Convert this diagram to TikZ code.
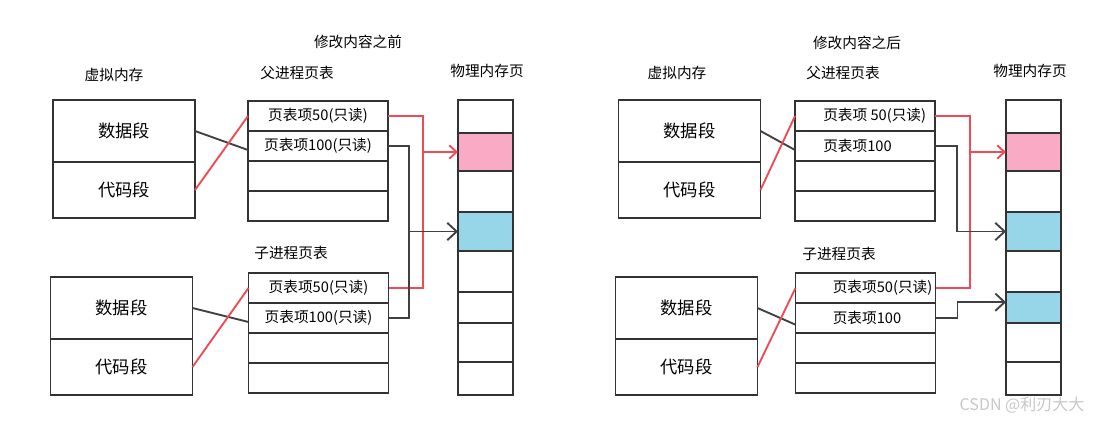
\documentclass[tikz,border=0pt]{standalone}
\usepackage{fontspec}
\setmainfont{Noto Sans CJK SC}
\usetikzlibrary{positioning, arrows.meta}
\definecolor{pagepink}{HTML}{F9AAC4}
\definecolor{pageblue}{HTML}{97D5E8}
\definecolor{cowred}{HTML}{EE4B55}

\begin{document}
\begin{tikzpicture}[x=0.75pt, y=-0.75pt,
        seg/.style={
            rectangle, draw=black!80, line width=1.3pt, outer sep=0pt,
            minimum width=106.5pt, minimum height=46.5pt,
            font=\fontsize{13}{15}\selectfont
        },
        pte/.style={
            rectangle, draw=black!80, line width=1.3pt, outer sep=0pt,
            minimum width=105pt, minimum height=22.5pt, inner sep=0pt,
            font=\fontsize{11}{13}\selectfont
        },
        cell/.style={rectangle, draw=black!80, line width=1.3pt, outer sep=0pt, minimum width=41.25pt, inner sep=0pt},
        head/.style={font=\fontsize{11}{13}\selectfont},
        entry/.style={inner sep=0pt, font=\fontsize{11}{13}\selectfont},
        blk/.style={draw=black!75, line width=1.4pt},
        redlink/.style={draw=cowred, line width=1.4pt},
        blkarrow/.style={blk, -{Straight Barb[length=7pt, width=13pt]}},
        redarrow/.style={redlink, -{Straight Barb[length=5.5pt, width=10pt]}}
    ]
        \useasboundingbox (0,0) rectangle (1111,425);

        % before the change
        \node[head] (titleL) at (358,42) {修改内容之前};
        \node[head] (vmL) at (114,75) {虚拟内存};
        \node[head] (ppL) at (297,73) {父进程页表};
        \node[head] (phL) at (487,71) {物理内存页};
        \node[head] (cpL) at (291,253) {子进程页表};

        \node[seg, anchor=north] (vLd) at (124,100) {数据段};
        \node[seg, below=0pt of vLd, minimum height=42pt] (vLc) {代码段};
        \node[seg, anchor=north] (vLd2) at (121.5,277) {数据段};
        \node[seg, below=0pt of vLd2, minimum height=42pt] (vLc2) {代码段};

        \node[pte, anchor=north] (pLr1) at (318,101) {页表项50(只读)};
        \node[pte, below=0pt of pLr1] (pLr2) {页表项100(只读)};
        \node[pte, below=0pt of pLr2] (pLr3) {};
        \node[pte, below=0pt of pLr3] (pLr4) {};

        \node[pte, anchor=north] (cLr1) at (318.5,273) {页表项50(只读)};
        \node[pte, below=0pt of cLr1] (cLr2) {页表项100(只读)};
        \node[pte, below=0pt of cLr2] (cLr3) {};
        \node[pte, below=0pt of cLr3] (cLr4) {};

        \foreach \t/\b/\c [count=\i] in {100/133/white, 133/171/pagepink, 171/212/white, 212/251/pageblue,
                                        251/292/white, 292/323/white, 323/362/white, 362/395/white}
            \node[cell, fill=\c, minimum height={(\b-\t)*0.75pt}] (mL\i) at (485.5,{(\t+\b)/2}) {};

        \draw[blk] (vLd.east) -- ([yshift=-3pt]pLr2.west);
        \draw[redlink] (vLc.east) -- (pLr1.west);
        \draw[blk] (vLd2.east) -- ([yshift=-3pt]cLr2.west);
        \draw[redlink] (vLc2.east) -- (cLr1.west);

        \coordinate (lred) at ([xshift=26.25pt]pLr1.east);
        \coordinate (lblk) at ([xshift=15.75pt]pLr2.east);
        \draw[redlink] (pLr1.east) -- (lred) |- (cLr1.east);
        \draw[redarrow] (lred |- mL2.west) -- (mL2.west);
        \draw[blk] (pLr2.east) -- (lblk) |- (cLr2.east);
        \draw[blkarrow] (lblk |- mL4.west) -- (mL4.west);

        % after the change
        \node[head] (titleR) at (857,43) {修改内容之后};
        \node[head] (vmR) at (677,73) {虚拟内存};
        \node[head] (ppR) at (843,73) {父进程页表};
        \node[head] (phR) at (1030,71) {物理内存页};
        \node[head] (cpR) at (839,254) {子进程页表};

        \node[seg, anchor=north] (vRd) at (689.5,100) {数据段};
        \node[seg, below=0pt of vRd, minimum height=42pt] (vRc) {代码段};
        \node[seg, anchor=north] (vRd2) at (686.5,277) {数据段};
        \node[seg, below=0pt of vRd2, minimum height=42pt] (vRc2) {代码段};

        \node[pte, anchor=north] (pRr1) at (865,101) {};
        \node[pte, below=0pt of pRr1] (pRr2) {};
        \node[pte, below=0pt of pRr2] (pRr3) {};
        \node[pte, below=0pt of pRr3] (pRr4) {};
        \node[entry, right=21pt of pRr1.west] (pRt1) {页表项 50(只读)};
        \node[entry, right=21pt of pRr2.west] (pRt2) {页表项100};

        \node[pte, anchor=north] (cRr1) at (865.5,273) {};
        \node[pte, below=0pt of cRr1] (cRr2) {};
        \node[pte, below=0pt of cRr2] (cRr3) {};
        \node[pte, below=0pt of cRr3] (cRr4) {};
        \node[entry, right=27.75pt of cRr1.west] (cRt1) {页表项50(只读)};
        \node[entry, right=27.75pt of cRr2.west] (cRt2) {页表项100};

        \foreach \t/\b/\c [count=\i] in {100/133/white, 133/171/pagepink, 171/212/white, 212/251/pageblue,
                                        251/292/white, 292/323/pageblue, 323/362/white, 362/395/white}
            \node[cell, fill=\c, minimum height={(\b-\t)*0.75pt}] (mR\i) at (1033.5,{(\t+\b)/2}) {};

        \draw[blk] (vRd.east) -- ([yshift=-3pt]pRr2.west);
        \draw[redlink] (vRc.east) -- (pRr1.west);
        \draw[blk] (vRd2.east) -- ([yshift=-5pt]cRr2.west);
        \draw[redlink] (vRc2.east) -- (cRr1.west);

        \coordinate (rred) at ([xshift=26.25pt]pRr1.east);
        \coordinate (rblk) at ([xshift=16.5pt]pRr2.east);
        \coordinate (rblk2) at ([xshift=16.5pt]cRr2.east);
        \draw[redlink] (pRr1.east) -- (rred) |- (cRr1.east);
        \draw[redarrow] (rred |- mR2.west) -- (mR2.west);
        \draw[blkarrow] (pRr2.east) -- (rblk) |- (mR4.west);
        \draw[blkarrow] (cRr2.east) -- (rblk2) |- ([yshift=4pt]mR6.west);

        \node[font=\fontsize{12}{14}\selectfont, text=black!22] (mark) at (1022,405) {CSDN @利刃大大};
    \end{tikzpicture}
\end{document}
